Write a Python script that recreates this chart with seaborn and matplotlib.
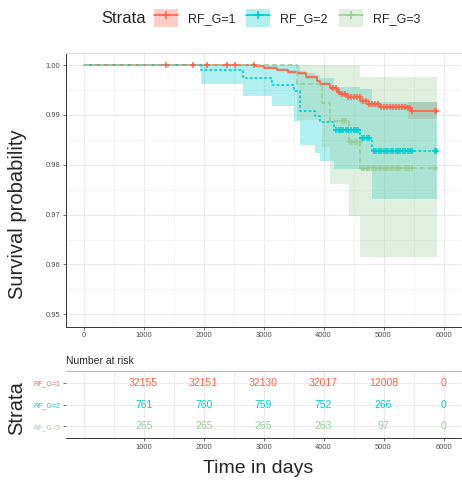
import matplotlib
matplotlib.use('Agg')
import matplotlib.pyplot as plt
from matplotlib.lines import Line2D
from matplotlib.patches import Patch
import numpy as np
import seaborn as sns

strata = ['RF_G=1', 'RF_G=2', 'RF_G=3']
colors = ['#FF6347', '#00CDCD', '#9BCD9B']
end_time = 5890

# RF_G=1
time_1 = [0, 2600, 2850, 3000, 3220, 3400, 3556, 3700, 3889, 3945, 4100, 4222,
          4278, 4400, 4611, 4750, 4944, 5100, 5400, 5460]
surv_1 = [1.0, 0.99995, 0.99986, 0.9995, 0.99906, 0.9987, 0.9984, 0.9977, 0.99672,
          0.9963, 0.9955, 0.9947, 0.9943, 0.9937, 0.9928, 0.9922, 0.9917, 0.9916,
          0.9914, 0.9908]
lower_1 = [1.0, 0.99985, 0.9997, 0.99925, 0.99875, 0.9983, 0.998, 0.9973, 0.9963,
           0.9959, 0.9951, 0.9943, 0.9939, 0.9932, 0.9923, 0.9917, 0.9912, 0.991,
           0.9891, 0.9891]
upper_1 = [1.0, 1.0, 0.99995, 0.99975, 0.99937, 0.9991, 0.9988, 0.9981, 0.9971,
           0.9967, 0.9959, 0.9951, 0.9947, 0.9942, 0.9933, 0.9927, 0.9922, 0.9922,
           0.9927, 0.9927]
cens_1 = [1365, 1823, 2056, 2389, 2528, 2845, 4150, 4200, 4250, 4300, 4350, 4400,
          4450, 4500, 4550, 4600, 4650, 4700, 4750, 4800, 4850, 4900, 4950, 5000,
          5050, 5100, 5150, 5200, 5250, 5300, 5350, 5400, 5440, 5480, 5860, 5880]

# RF_G=2
time_2 = [0, 1950, 2656, 3139, 3511, 3611, 3861, 3945, 4180, 4611, 4806]
surv_2 = [1.0, 0.999, 0.9974, 0.99606, 0.9949, 0.99086, 0.9898, 0.9885, 0.987,
          0.9854, 0.98275]
lower_2 = [1.0, 0.9962, 0.99373, 0.9918, 0.9888, 0.98406, 0.9824, 0.98068, 0.9791,
           0.979, 0.9731]
upper_2 = [1.0, 1.0, 1.0, 1.0, 1.0, 0.9985, 0.998, 0.9975, 0.9956, 0.9953, 0.9927]
cens_2 = [4210, 4250, 4290, 4330, 4370, 4410, 4450, 4500, 4540, 4580, 4640, 4680,
          4720, 4760, 4840, 4880, 4920, 4960, 5000, 5040, 5080, 5120, 5160, 5200,
          5240, 5280, 5320, 5360, 5400, 5440, 5480, 5860, 5880]

# RF_G=3
time_3 = [0, 3556, 3972, 4111, 4417, 4611]
surv_3 = [1.0, 0.9963, 0.9925, 0.98872, 0.9846, 0.9794]
lower_3 = [1.0, 0.989, 0.9835, 0.97606, 0.96973, 0.96153]
upper_3 = [1.0, 1.0, 1.0, 1.0, 1.0, 0.9977]
cens_3 = [4300, 4340, 4380, 4440, 4480, 4520, 4560, 4600, 4640, 4680, 4720, 4760,
          4800, 4840, 4880, 4920, 4960, 5000, 5040, 5080, 5120, 5160, 5200, 5240,
          5280, 5350, 5390, 5430, 5470, 5850]

# number at risk
risk_times = [1000, 2000, 3000, 4000, 5000, 6000]
risk_1 = [32155, 32151, 32130, 32017, 12008, 0]
risk_2 = [761, 760, 759, 752, 266, 0]
risk_3 = [265, 265, 265, 263, 97, 0]

sns.set_theme(style='whitegrid')
plt.rcParams['font.family'] = ['Liberation Sans', 'DejaVu Sans']

curves = [
    (time_1, surv_1, lower_1, upper_1, cens_1, '-'),
    (time_2, surv_2, lower_2, upper_2, cens_2, (0, (1.6, 1.3))),
    (time_3, surv_3, lower_3, upper_3, cens_3, (0, (3.0, 1.7))),
]

fig = plt.figure(figsize=(4.62, 4.83), dpi=100)
ax = fig.add_axes([0.1422, 0.3236, 0.8567, 0.5673])
tab = fig.add_axes([0.1422, 0.0925, 0.8567, 0.14])


def _step_value(times, values, at):
    idx = np.searchsorted(times, at, side='right') - 1
    return np.asarray(values)[idx]


# lines first, bands over them, censor marks on top (like ggsurvplot)
for (t, s, lo, hi, cens, ls), color in zip(curves, colors):
    sns.lineplot(x=t + [end_time], y=s + [s[-1]], color=color, linestyle=ls,
                 drawstyle='steps-post', estimator=None, linewidth=1.2, ax=ax)
for (t, s, lo, hi, cens, ls), color in zip(curves, colors):
    ax.fill_between(t + [end_time], lo + [lo[-1]], hi + [hi[-1]], step='post',
                    color=color, alpha=0.3, linewidth=0)
for (t, s, lo, hi, cens, ls), color in zip(curves, colors):
    ax.plot(cens, _step_value(t, s, cens), linestyle='none', marker='+',
            markersize=5, markeredgewidth=1.1, color=color)

ax.set_xlim(-300, 6300)
ax.set_ylim(0.9475, 1.0025)
ax.set_xticks(range(0, 7000, 1000))
ax.set_xticks(range(500, 6500, 1000), minor=True)
yt = [0.95, 0.96, 0.97, 0.98, 0.99, 1.00]
ax.set_yticks(yt)
ax.set_yticklabels(['%.2f' % v for v in yt])
ax.set_yticks([0.955, 0.965, 0.975, 0.985, 0.995], minor=True)
ax.grid(which='major', color='#EBEBEB', linewidth=0.8)
ax.grid(which='minor', color='#F3F3F3', linewidth=0.6)
ax.set_xlabel('')
ax.set_ylabel('')
ax.tick_params(which='major', bottom=True, left=True, length=2, width=0.5,
               color='#333333', labelsize=5.5, labelcolor='#4D4D4D', pad=2)
ax.tick_params(which='minor', bottom=False, left=False)
for side in ['left', 'bottom']:
    ax.spines[side].set_color('#333333')
    ax.spines[side].set_linewidth(0.7)
ax.spines['top'].set_color('#DDDDDD')
ax.spines['top'].set_linewidth(0.8)
ax.spines['right'].set_visible(False)

# risk table
for i, (counts, color) in enumerate(zip([risk_1, risk_2, risk_3], colors)):
    for t, n in zip(risk_times, counts):
        tab.text(t, i + 1, str(n), color=color, ha='center', va='center', fontsize=7.5)
tab.set_xlim(-300, 6300)
tab.set_ylim(3.55, 0.45)
tab.set_xticks(risk_times)
tab.set_xticks([0, 500, 1500, 2500, 3500, 4500, 5500], minor=True)
tab.set_yticks([1, 2, 3])
tab.set_yticklabels(strata)
for lab, color in zip(tab.get_yticklabels(), colors):
    lab.set_color(color)
tab.grid(which='both', color='#EBEBEB', linewidth=0.7)
tab.tick_params(which='major', bottom=True, left=True, length=2, width=0.5,
                color='#333333', labelsize=5, pad=2)
tab.tick_params(axis='x', labelcolor='#4D4D4D', labelsize=5.5)
tab.tick_params(which='minor', bottom=False, left=False)
tab.spines['bottom'].set_color('#333333')
tab.spines['bottom'].set_linewidth(0.7)
tab.spines['top'].set_color('#BBBBBB')
tab.spines['top'].set_linewidth(0.8)
tab.spines['left'].set_visible(False)
tab.spines['right'].set_visible(False)

fig.text(0.1422, 0.253, 'Number at risk', fontsize=7.5, va='center', ha='left')
fig.text(0.037, 0.557, 'Survival probability', rotation=90, fontsize=14.5,
         ha='center', va='center')
fig.text(0.037, 0.155, 'Strata', rotation=90, fontsize=14.5, ha='center', va='center')
fig.text(0.558, 0.029, 'Time in days', fontsize=14, ha='center', va='center')

# legend on top
fig.text(0.22, 0.962, 'Strata', fontsize=12, ha='left', va='center')
handles = [(Patch(facecolor=c, alpha=0.3, edgecolor='none'),
            Line2D([], [], color=c, linewidth=1.2, marker='+', markersize=6,
                   markeredgewidth=1.2)) for c in colors]
fig.legend(handles, strata, loc='center left', bbox_to_anchor=(0.333, 0.963),
           ncol=3, frameon=False, fontsize=9, handlelength=1.9, handleheight=1.9,
           handletextpad=0.8, columnspacing=0.9, borderpad=0, borderaxespad=0)

fig.savefig('out.png', dpi=100)
